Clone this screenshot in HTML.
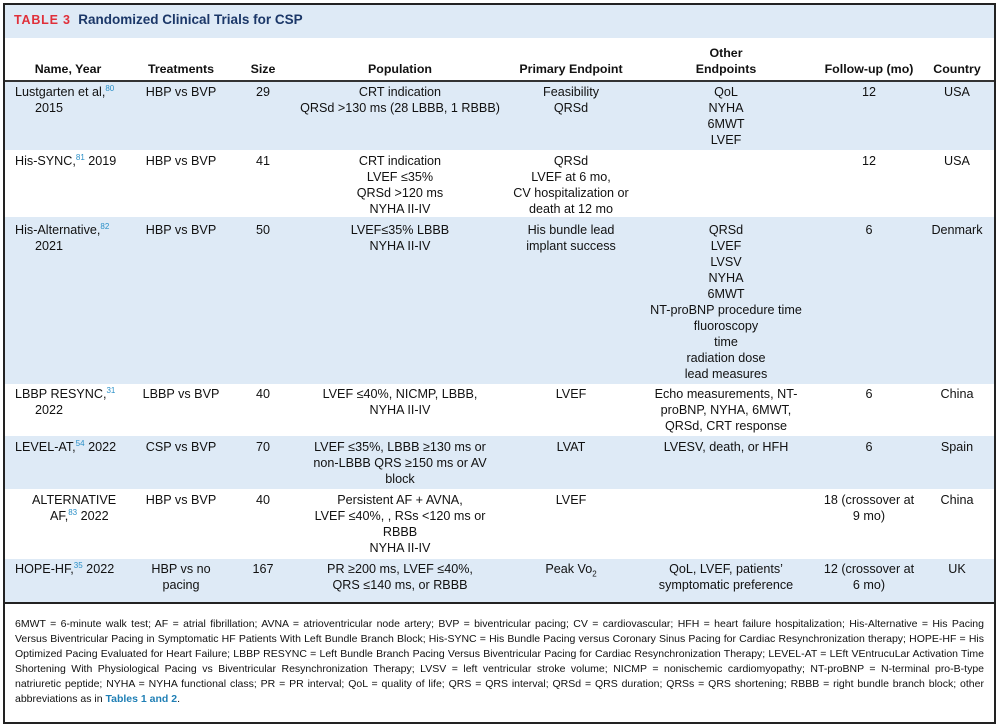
<!DOCTYPE html>
<html><head><meta charset="utf-8"><style>
*{margin:0;padding:0;box-sizing:border-box}
body{width:1000px;height:727px;background:#fff;font-family:"Liberation Sans",sans-serif;font-size:12.6px;color:#111;position:relative;overflow:hidden}
.frame{position:absolute;left:3px;top:3px;width:993px;height:721px;border:2px solid #222}
.band{position:absolute;left:5px;width:989px;background:#deeaf6}
.c{position:absolute;text-align:center;line-height:16px;white-space:nowrap}
.l{position:absolute;line-height:16px;white-space:nowrap}
.h{font-weight:bold;font-size:12.4px}
sup{font-size:8px;color:#2a8fc7;vertical-align:5px;line-height:0}
.fn{position:absolute;left:15px;width:969px;font-size:10.5px;line-height:16px;text-align:justify;text-align-last:justify;white-space:nowrap;overflow:hidden}
.fn.last{text-align-last:left}
</style></head><body>
<div class="band" style="top:5px;height:33px"></div>
<div class="l" style="left:14px;top:12px;font-weight:bold;font-size:13.5px"><span style="color:#e0303a;letter-spacing:0.8px;font-size:12.5px">TABLE 3</span>&nbsp;&nbsp;<span style="color:#1b3768">Randomized Clinical Trials for CSP</span></div>
<div style="position:absolute;left:5px;top:80px;width:989px;height:2px;background:#333"></div>
<div class="band" style="top:82px;height:68px"></div>
<div class="band" style="top:217px;height:167px"></div>
<div class="band" style="top:436px;height:53px"></div>
<div class="band" style="top:559px;height:43px"></div>
<div style="position:absolute;left:5px;top:602px;width:989px;height:2px;background:#222"></div>

<!-- headers -->
<div class="c h" style="left:8px;width:120px;top:61px">Name, Year</div>
<div class="c h" style="left:141px;width:80px;top:61px">Treatments</div>
<div class="c h" style="left:233px;width:60px;top:61px">Size</div>
<div class="c h" style="left:320px;width:160px;top:61px">Population</div>
<div class="c h" style="left:501px;width:140px;top:61px">Primary Endpoint</div>
<div class="c h" style="left:666px;width:120px;top:45px">Other<br>Endpoints</div>
<div class="c h" style="left:809px;width:120px;top:61px">Follow-up (mo)</div>
<div class="c h" style="left:927px;width:60px;top:61px">Country</div>

<!-- names -->
<div class="l" style="left:15px;top:84px">Lustgarten et al,<sup>80</sup></div>
<div class="l" style="left:35px;top:100px">2015</div>
<div class="l" style="left:15px;top:153px">His-SYNC,<sup>81</sup> 2019</div>
<div class="l" style="left:15px;top:222px">His-Alternative,<sup>82</sup></div>
<div class="l" style="left:35px;top:238px">2021</div>
<div class="l" style="left:15px;top:386px">LBBP RESYNC,<sup>31</sup></div>
<div class="l" style="left:35px;top:402px">2022</div>
<div class="l" style="left:15px;top:439px">LEVEL-AT,<sup>54</sup> 2022</div>
<div class="l" style="left:32px;top:492px">ALTERNATIVE</div>
<div class="l" style="left:50px;top:508px">AF,<sup>83</sup> 2022</div>
<div class="l" style="left:15px;top:561px">HOPE-HF,<sup>35</sup> 2022</div>

<!-- treatments -->
<div class="c" style="left:131px;width:100px;top:84px">HBP vs BVP</div>
<div class="c" style="left:131px;width:100px;top:153px">HBP vs BVP</div>
<div class="c" style="left:131px;width:100px;top:222px">HBP vs BVP</div>
<div class="c" style="left:131px;width:100px;top:386px">LBBP vs BVP</div>
<div class="c" style="left:131px;width:100px;top:439px">CSP vs BVP</div>
<div class="c" style="left:131px;width:100px;top:492px">HBP vs BVP</div>
<div class="c" style="left:131px;width:100px;top:561px">HBP vs no<br>pacing</div>

<!-- size -->
<div class="c" style="left:233px;width:60px;top:84px">29</div>
<div class="c" style="left:233px;width:60px;top:153px">41</div>
<div class="c" style="left:233px;width:60px;top:222px">50</div>
<div class="c" style="left:233px;width:60px;top:386px">40</div>
<div class="c" style="left:233px;width:60px;top:439px">70</div>
<div class="c" style="left:233px;width:60px;top:492px">40</div>
<div class="c" style="left:233px;width:60px;top:561px">167</div>

<!-- population -->
<div class="c" style="left:300px;width:200px;top:84px">CRT indication<br>QRSd &gt;130 ms (28 LBBB, 1 RBBB)</div>
<div class="c" style="left:300px;width:200px;top:153px">CRT indication<br>LVEF ≤35%<br>QRSd &gt;120 ms<br>NYHA II-IV</div>
<div class="c" style="left:300px;width:200px;top:222px">LVEF≤35% LBBB<br>NYHA II-IV</div>
<div class="c" style="left:300px;width:200px;top:386px">LVEF ≤40%, NICMP, LBBB,<br>NYHA II-IV</div>
<div class="c" style="left:300px;width:200px;top:439px">LVEF ≤35%, LBBB ≥130 ms or<br>non-LBBB QRS ≥150 ms or AV<br>block</div>
<div class="c" style="left:300px;width:200px;top:492px">Persistent AF + AVNA,<br>LVEF ≤40%, , RSs &lt;120 ms or<br>RBBB<br>NYHA II-IV</div>
<div class="c" style="left:300px;width:200px;top:561px">PR ≥200 ms, LVEF ≤40%,<br>QRS ≤140 ms, or RBBB</div>

<!-- primary -->
<div class="c" style="left:501px;width:140px;top:84px">Feasibility<br>QRSd</div>
<div class="c" style="left:501px;width:140px;top:153px">QRSd<br>LVEF at 6 mo,<br>CV hospitalization or<br>death at 12 mo</div>
<div class="c" style="left:501px;width:140px;top:222px">His bundle lead<br>implant success</div>
<div class="c" style="left:501px;width:140px;top:386px">LVEF</div>
<div class="c" style="left:501px;width:140px;top:439px">LVAT</div>
<div class="c" style="left:501px;width:140px;top:492px">LVEF</div>
<div class="c" style="left:501px;width:140px;top:561px">Peak Vo<sub style="font-size:8px">2</sub></div>

<!-- other -->
<div class="c" style="left:646px;width:160px;top:84px">QoL<br>NYHA<br>6MWT<br>LVEF</div>
<div class="c" style="left:636px;width:180px;top:222px">QRSd<br>LVEF<br>LVSV<br>NYHA<br>6MWT<br>NT-proBNP procedure time<br>fluoroscopy<br>time<br>radiation dose<br>lead measures</div>
<div class="c" style="left:636px;width:180px;top:386px">Echo measurements, NT-<br>proBNP, NYHA, 6MWT,<br>QRSd, CRT response</div>
<div class="c" style="left:636px;width:180px;top:439px">LVESV, death, or HFH</div>
<div class="c" style="left:636px;width:180px;top:561px">QoL, LVEF, patients’<br>symptomatic preference</div>

<!-- follow-up -->
<div class="c" style="left:809px;width:120px;top:84px">12</div>
<div class="c" style="left:809px;width:120px;top:153px">12</div>
<div class="c" style="left:809px;width:120px;top:222px">6</div>
<div class="c" style="left:809px;width:120px;top:386px">6</div>
<div class="c" style="left:809px;width:120px;top:439px">6</div>
<div class="c" style="left:809px;width:120px;top:492px">18 (crossover at<br>9 mo)</div>
<div class="c" style="left:809px;width:120px;top:561px">12 (crossover at<br>6 mo)</div>

<!-- country -->
<div class="c" style="left:927px;width:60px;top:84px">USA</div>
<div class="c" style="left:927px;width:60px;top:153px">USA</div>
<div class="c" style="left:917px;width:80px;top:222px">Denmark</div>
<div class="c" style="left:927px;width:60px;top:386px">China</div>
<div class="c" style="left:927px;width:60px;top:439px">Spain</div>
<div class="c" style="left:927px;width:60px;top:492px">China</div>
<div class="c" style="left:927px;width:60px;top:561px">UK</div>

<!-- footnote -->
<div class="fn" style="top:616px">6MWT = 6-minute walk test; AF = atrial fibrillation; AVNA = atrioventricular node artery; BVP = biventricular pacing; CV = cardiovascular; HFH = heart failure hospitalization; His-Alternative = His Pacing</div>
<div class="fn" style="top:631px">Versus Biventricular Pacing in Symptomatic HF Patients With Left Bundle Branch Block; His-SYNC = His Bundle Pacing versus Coronary Sinus Pacing for Cardiac Resynchronization therapy; HOPE-HF = His</div>
<div class="fn" style="top:646px">Optimized Pacing Evaluated for Heart Failure; LBBP RESYNC = Left Bundle Branch Pacing Versus Biventricular Pacing for Cardiac Resynchronization Therapy; LEVEL-AT = LEft VEntrucuLar Activation Time</div>
<div class="fn" style="top:661px">Shortening With Physiological Pacing vs Biventricular Resynchronization Therapy; LVSV = left ventricular stroke volume; NICMP = nonischemic cardiomyopathy; NT-proBNP = N-terminal pro-B-type</div>
<div class="fn" style="top:676px">natriuretic peptide; NYHA = NYHA functional class; PR = PR interval; QoL = quality of life; QRS = QRS interval; QRSd = QRS duration; QRSs = QRS shortening; RBBB = right bundle branch block; other</div>
<div class="fn last" style="top:691px">abbreviations as in <b style="color:#1f7fb5">Tables 1 and 2</b>.</div>

<div class="frame"></div>
</body></html>
